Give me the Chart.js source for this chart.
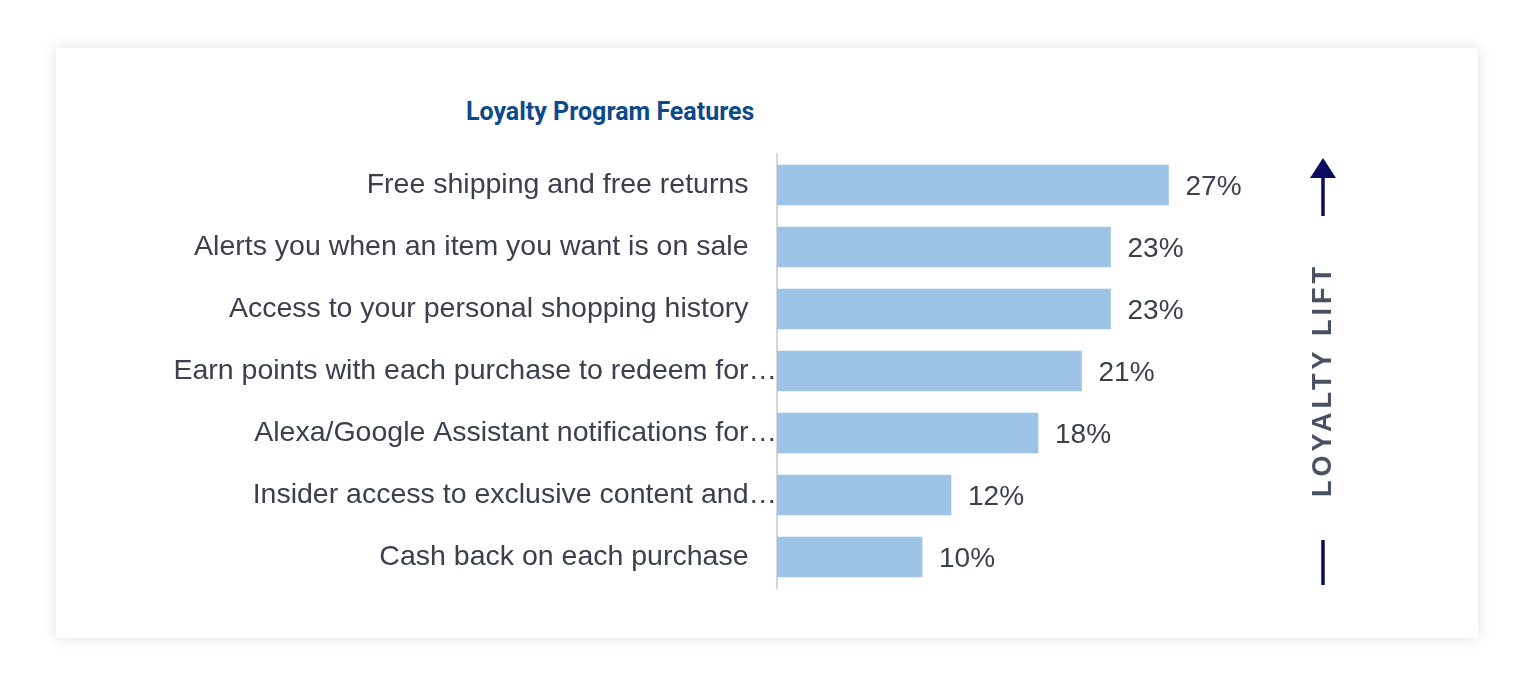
<!DOCTYPE html>
<html>
<head>
<meta charset="utf-8">
<script src="https://cdn.jsdelivr.net/npm/chart.js@4/dist/chart.umd.min.js"></script>
<style>
  html, body { margin: 0; padding: 0; background: #ffffff; width: 1530px; height: 682px; overflow: hidden; }
  #card { position: absolute; left: 56px; top: 48px; width: 1422px; height: 590px; background: #ffffff;
          box-shadow: 0 0 14px rgba(0,0,0,0.13); }
  #title { position: absolute; left: 466px; top: 97px; font-family: Roboto, "Liberation Sans", sans-serif;
           font-weight: 700; font-size: 25px; color: #0d4a8b; white-space: nowrap; line-height: 30px; }
  #c { position: absolute; left: 0; top: 0; }
</style>
</head>
<body>
<div id="card"></div>
<div id="title">Loyalty Program Features</div>
<canvas id="c" width="1530" height="682"></canvas>
<script>
const categories = [
  "Free shipping and free returns",
  "Alerts you when an item you want is on sale",
  "Access to your personal shopping history",
  "Earn points with each purchase to redeem for…",
  "Alexa/Google Assistant notifications for…",
  "Insider access to exclusive content and…",
  "Cash back on each purchase"
];
const values = [27, 23, 23, 21, 18, 12, 10];
const valueLabels = ["27%", "23%", "23%", "21%", "18%", "12%", "10%"];
const sideLabel = "LOYALTY LIFT";

const textColor = "#3b404c";
const barColor = "#9dc3e6";

const valueLabelPlugin = {
  id: 'valueLabels',
  afterDatasetsDraw(chart) {
    const ctx = chart.ctx;
    const meta = chart.getDatasetMeta(0);
    ctx.save();
    ctx.font = '28px "Liberation Sans", Arial, sans-serif';
    ctx.fillStyle = textColor;
    ctx.textAlign = 'left';
    ctx.textBaseline = 'middle';
    meta.data.forEach((bar, i) => {
      ctx.fillText(valueLabels[i], bar.x + 17, bar.y + 2);
    });
    ctx.restore();
  }
};

const liftPlugin = {
  id: 'lift',
  afterDraw(chart) {
    const ctx = chart.ctx;
    const a = chart.chartArea;
    const x = 1323;
    ctx.save();
    ctx.strokeStyle = '#0c0c5e';
    ctx.fillStyle = '#0c0c5e';
    ctx.lineWidth = 3.5;
    ctx.beginPath();
    ctx.moveTo(x, a.top + 22);
    ctx.lineTo(x, a.top + 62);
    ctx.stroke();
    ctx.beginPath();
    ctx.moveTo(x, a.top + 4);
    ctx.lineTo(x - 13, a.top + 24);
    ctx.lineTo(x + 13, a.top + 24);
    ctx.closePath();
    ctx.fill();
    ctx.beginPath();
    ctx.moveTo(x, a.bottom - 48);
    ctx.lineTo(x, a.bottom - 3);
    ctx.stroke();
    ctx.translate(x, (a.top + a.bottom) / 2 + 9);
    ctx.rotate(-Math.PI / 2);
    ctx.font = 'bold 27px "Liberation Sans", Arial, sans-serif';
    if ('letterSpacing' in ctx) ctx.letterSpacing = '4px';
    ctx.fillStyle = '#4a5163';
    ctx.textAlign = 'center';
    ctx.textBaseline = 'middle';
    ctx.fillText(sideLabel, 0, 1);
    ctx.restore();
  }
};

new Chart(document.getElementById('c'), {
  type: 'bar',
  data: {
    labels: categories,
    datasets: [{
      data: values,
      backgroundColor: barColor,
      borderWidth: 0,
      barThickness: 40
    }]
  },
  options: {
    indexAxis: 'y',
    responsive: false,
    animation: false,
    devicePixelRatio: 1,
    layout: { padding: { top: 154, bottom: 94, left: 0, right: 173 } },
    plugins: { legend: { display: false }, tooltip: { enabled: false }, title: { display: false } },
    scales: {
      x: {
        display: false,
        min: 0,
        max: 40
      },
      y: {
        afterFit(scale) { scale.width = 777; },
        grid: { display: false, drawTicks: false },
        border: { display: true, color: '#d6d6d6', width: 2 },
        ticks: {
          padding: 0,
          color: textColor,
          font: { family: '"Liberation Sans", Arial, sans-serif', size: 28.5 },
          callback(v, i) {
            const s = categories[i];
            return s.endsWith('…') ? s : s + '\u2002\u2002';
          }
        }
      }
    }
  },
  plugins: [valueLabelPlugin, liftPlugin]
});
</script>
</body>
</html>
